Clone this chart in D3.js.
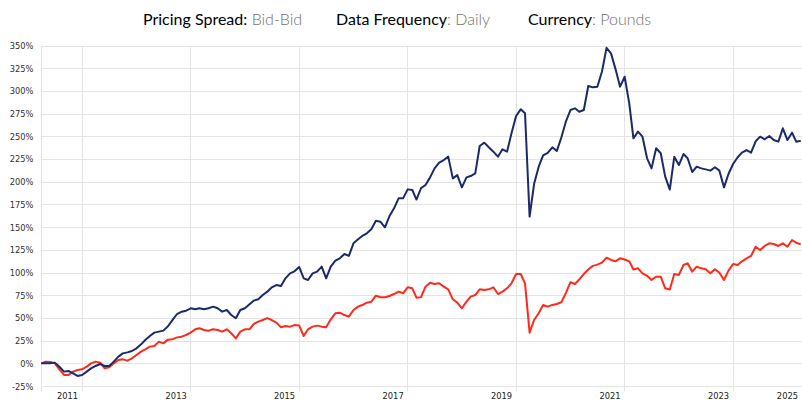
<!DOCTYPE html>
<html>
<head>
<meta charset="utf-8">
<script src="https://cdn.jsdelivr.net/npm/d3@7"></script>
<style>
  html, body { margin: 0; padding: 0; background: #fff; }
  svg { display: block; }
</style>
</head>
<body>
<div id="chart"></div>
<script>
// monthly observations, first month April 2011
const firstMonth = new Date(2011, 3, 1);

const fund = [
  0.7, 0.7, 0.7, 1.5, -3, -8.4, -7.7, -10.3, -13.2, -12.1, -8.4, -4.8,
  -2.2, 0, -2.2, -2.2, 2.6, 8.1, 11.7, 12.8, 14.3, 17.2, 21.6, 26.4,
  30.8, 34.5, 35.6, 36.7, 41.5, 48.5, 55, 57.6, 58.7, 61.3, 60.2, 61.3,
  60.2, 61.3, 63.1, 61.3, 57.6, 59.4, 53.9, 50.3, 59.4, 61.3, 65.7, 69.7,
  71.2, 75.9, 79.6, 84.4, 86.9, 85.8, 94.3, 99.8, 102, 106.8, 94.3, 92.5,
  99.8, 101.6, 107.1, 94.3, 107.1, 113.7, 116.3, 121.1, 118.9, 132.8, 137.2, 140.9,
  143.8, 148.2, 157.7, 156.6, 150.4, 162.9, 171.3, 182.3, 182.3, 192.2, 191.5, 181,
  193.5, 197, 205.4, 215.3, 221.6, 224.5, 228.2, 204.3, 207.9, 194.4, 205.4, 206.9,
  209.8, 239.9, 243.6, 238.5, 233.7, 228.2, 236.3, 233.7, 253.9, 273, 280.3, 275.9,
  162.2, 198.1, 217.2, 229.5, 232.3, 238.5, 234.4, 249.5, 266.7, 279.5, 281.4, 277.7,
  279.5, 306, 304.5, 305.2, 321.7, 348, 341.9, 324.3, 305.2, 316.2, 286.9, 248.4,
  255.7, 250.2, 226.4, 215.3, 237.4, 231.9, 206.2, 192, 228, 219, 231.1, 226.4,
  211.3, 217.2, 215.3, 214.2, 212.8, 216.5, 212.8, 194.4, 209.1, 220.1, 227.5, 232.6,
  235.5, 232.6, 245.1, 250.2, 247.3, 250.9, 246.5, 244.7, 259.4, 246.5, 254.6, 244.7,
  245.8
];

const sector = [
  0.7, 2.6, 2.2, 0.7, -6, -12.1, -12.1, -8.4, -6.6, -5.9, -2.9, 0.7,
  2.6, 1.5, -4.8, -3.7, 0.7, 4.4, 5.1, 3.7, 6.2, 9.9, 13.6, 16.1,
  19.1, 19.8, 24.6, 22.7, 26.8, 27.3, 29.3, 30.1, 31.9, 34.5, 38.2, 39.3,
  37.4, 36.7, 38.2, 37.4, 35.6, 38.2, 33.8, 28.2, 35.6, 38.2, 38.2, 44,
  46.6, 48.4, 50.5, 48.4, 45.5, 40.4, 41.8, 41.1, 42.8, 42.5, 30.8, 38.2,
  41.1, 42.2, 41.1, 40.4, 49.2, 55.8, 56.5, 53.9, 52.1, 59.4, 63.1, 64.9,
  67.5, 68.6, 75.2, 73.4, 73.4, 74.8, 77, 79.6, 77.8, 84.4, 83.3, 73,
  73.6, 85.1, 89.5, 88, 88.8, 85.1, 82.2, 71.2, 67.5, 61.3, 68.6, 74.1,
  75.9, 82.2, 81.4, 82.2, 84.4, 77, 79.6, 83.3, 88.8, 99, 99, 88.8,
  34.5, 48.4, 55.8, 64.9, 63.1, 65, 66, 68, 78, 90, 88, 93,
  99, 104, 108, 109.4, 111.5, 117, 114.5, 113, 116.3, 115, 113, 104,
  105.3, 99.8, 97, 92.5, 96, 96.1, 83.3, 82, 99, 98, 109, 110.8,
  101.6, 107.1, 105.3, 104.2, 99.8, 104.2, 100.5, 92.5, 102.7, 110.1, 109, 113,
  116.3, 118.9, 129.1, 125.5, 129.9, 132.8, 132.1, 129.9, 132.8, 129.1, 136.5, 133.5,
  131.7
];

const yTicks = d3.range(-25, 351, 25);
const gridYears = [2012, 2014, 2016, 2018, 2020, 2022, 2024];
const yearLabels = ['2011', '2013', '2015', '2017', '2019', '2021', '2023', '2025'];
const yearLabelDates = ['2011-09-25', '2013-09-25', '2015-09-25', '2017-09-25', '2019-09-25', '2021-09-25', '2023-09-25', '2025-01-01'];

const header = [
  { key: 'Pricing Spread:', val: ' Bid-Bid', x: 143 },
  { key: 'Data Frequency', val: ': Daily', x: 336 },
  { key: 'Currency', val: ': Pounds', x: 528 }
];

const W = 802, H = 401;
const L = 41.3, R = 800.8, T = 46, B = 386.7;

const months = fund.map((d, i) => d3.timeMonth.offset(firstMonth, i));

const svg = d3.select('#chart').append('svg').attr('width', W).attr('height', H);

const x = d3.scaleTime().domain([months[0], months[months.length - 1]]).range([L, R]);
const y = d3.scaleLinear().domain([-25, 350]).range([B, T]);

// header
header.forEach(h => {
  const t = svg.append('text').attr('x', h.x).attr('y', 25)
    .style('font-family', 'Lato, "Open Sans", sans-serif').style('font-size', '16px');
  t.append('tspan').attr('fill', '#000').text(h.key);
  t.append('tspan').attr('fill', '#6f6f6f').style('font-weight', 300).text(h.val);
});

// grid
const grid = svg.append('g').attr('stroke', '#e4e4e4').attr('stroke-width', 1).attr('shape-rendering', 'crispEdges');
grid.selectAll('line.h').data(yTicks).join('line').attr('class', 'h')
  .attr('x1', L).attr('x2', W).attr('y1', d => y(d)).attr('y2', d => y(d));
grid.append('line').attr('x1', L).attr('x2', L).attr('y1', T).attr('y2', B + 4);
grid.selectAll('line.v').data(gridYears).join('line').attr('class', 'v')
  .attr('x1', d => x(new Date(d, 0, 1))).attr('x2', d => x(new Date(d, 0, 1)))
  .attr('y1', T).attr('y2', B + 4);

// y labels
svg.append('g').selectAll('text').data(yTicks).join('text')
  .attr('x', 33.5).attr('y', d => y(d)).attr('dy', '0.35em').attr('text-anchor', 'end')
  .style('font-family', '"DejaVu Sans", Verdana, sans-serif').style('font-size', '8.3px').attr('fill', '#333')
  .text(d => d + '%');

// x labels
svg.append('g').selectAll('text').data(yearLabels).join('text')
  .attr('x', (d, i) => x(d3.timeParse('%Y-%m-%d')(yearLabelDates[i])))
  .attr('y', 396).attr('dy', '0.35em').attr('text-anchor', 'middle')
  .style('font-family', '"DejaVu Sans", Verdana, sans-serif').style('font-size', '8.3px').attr('fill', '#222')
  .text(d => d);

const line = d3.line().x((d, i) => x(months[i])).y(d => y(d));

svg.append('path').attr('d', line(sector)).attr('fill', 'none')
  .attr('stroke', '#ff2a1c').attr('stroke-width', 2).attr('stroke-linejoin', 'round');
svg.append('path').attr('d', line(fund)).attr('fill', 'none')
  .attr('stroke', '#1c2a6a').attr('stroke-width', 2).attr('stroke-linejoin', 'round');
</script>
</body>
</html>
